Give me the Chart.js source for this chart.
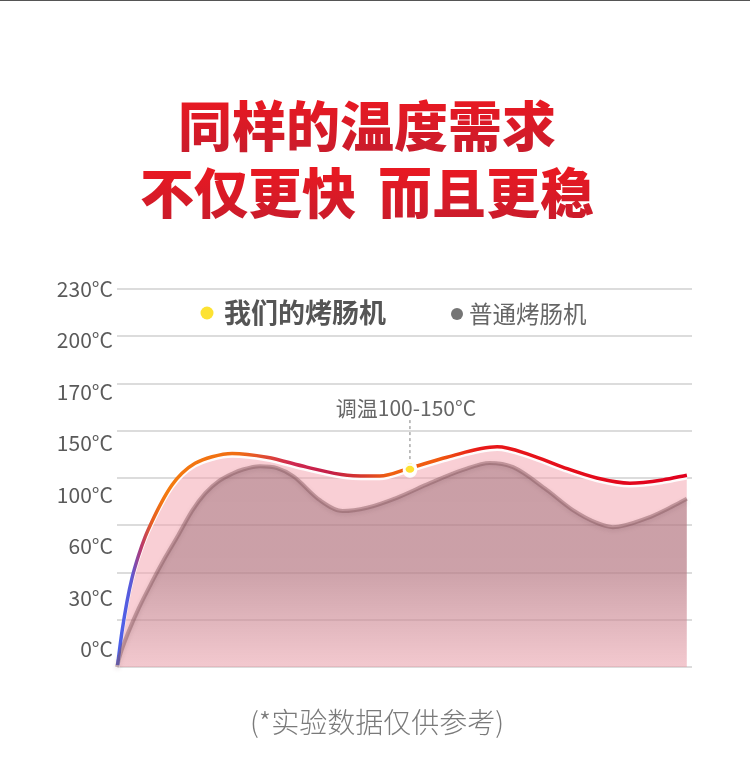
<!DOCTYPE html>
<html>
<head>
<meta charset="utf-8">
<script src="https://cdn.jsdelivr.net/npm/chart.js@4.4.1/dist/chart.umd.min.js"></script>
<style>
  html, body { margin: 0; padding: 0; background: #fff; }
  #page { position: relative; width: 750px; height: 773px; overflow: hidden; background: #fff; }
  #topline { position: absolute; left: 0; top: 0; width: 750px; height: 1px; background: #555; }
  #title {
    position: absolute; left: -8px; top: 90px; width: 750px; text-align: center;
    font-family: "Noto Sans CJK SC", "Noto Sans", sans-serif; font-weight: 900;
    font-size: 54px; line-height: 67px; white-space: nowrap;
    background: linear-gradient(180deg, #ee1820 0%, #c81c2c 48%, #ee1820 52%, #c81c2c 100%);
    -webkit-background-clip: text; background-clip: text; color: transparent;
  }
  #title .gap { display: inline-block; width: 22px; }
  #note {
    position: absolute; left: 2px; top: 701px; width: 750px; text-align: center;
    font-family: "Noto Sans CJK SC", "Noto Sans", sans-serif; font-weight: 300;
    font-size: 28px; line-height: 40px; color: #7a7a7a;
  }
  #chartBox { position: absolute; left: 0; top: 0; width: 750px; height: 773px; }
</style>
</head>
<body>
<div id="page">
  <div id="topline"></div>
  <div id="chartBox"><canvas id="c" width="750" height="773"></canvas></div>
  <div id="title">同样的温度需求<br>不仅更快<span class="gap"></span>而且更稳</div>
  <div id="note">(*实验数据仅供参考)</div>
</div>
<script>
// ---- data (y in grid-line units, x = heating progress 0..100) ----
const tempLabels = ['0°C', '30°C', '60°C', '100°C', '150°C', '170°C', '200°C', '230°C'];
const seriesNames = ['我们的烤肠机', '普通烤肠机'];
const annotationText = '调温100-150°C';

const oursX = [0.1, 0.88, 1.75, 2.63, 3.81, 4.96, 6.14, 7.89, 9.65, 11.4, 13.7, 16.7, 20.2, 26.3, 33.3, 40.4, 46.1, 51.4, 57.9, 66.7, 72.5, 78.2, 84.2, 90, 95.8, 100];
const oursY = [0.04, 0.75, 1.38, 1.88, 2.37, 2.76, 3.08, 3.5, 3.85, 4.1, 4.31, 4.45, 4.52, 4.44, 4.23, 4.06, 4.04, 4.21, 4.44, 4.66, 4.49, 4.23, 4.0, 3.89, 3.96, 4.06];
const markerIndex = 17;

const regularX = [0, 0.53, 2.05, 3.81, 6.14, 8.42, 10.8, 13.2, 15.5, 17.8, 20.2, 22.1, 25.1, 28.1, 30.9, 35.6, 39.6, 43.9, 49.1, 54.9, 60.7, 65.4, 69.5, 75.4, 80, 84.2, 87, 93, 97, 100];
const regularY = [0, 0.25, 0.75, 1.24, 1.8, 2.31, 2.8, 3.31, 3.68, 3.93, 4.09, 4.18, 4.25, 4.21, 4.04, 3.53, 3.3, 3.37, 3.58, 3.89, 4.17, 4.32, 4.23, 3.75, 3.32, 3.05, 2.96, 3.15, 3.37, 3.56];

const FONT = '"Noto Sans CJK SC", "Noto Sans", sans-serif';

function lineGradient(context) {
  const chart = context.chart;
  const area = chart.chartArea;
  if (!area) return '#e8101e';
  const g = chart.ctx.createLinearGradient(area.left, 0, area.right, 0);
  g.addColorStop(0.0, '#4a62f0');
  g.addColorStop(0.025, '#5a5ad8');
  g.addColorStop(0.042, '#b8386e');
  g.addColorStop(0.062, '#e8601e');
  g.addColorStop(0.085, '#f47a10');
  g.addColorStop(0.21, '#f06e12');
  g.addColorStop(0.30, '#d02a50');
  g.addColorStop(0.37, '#c41e48');
  g.addColorStop(0.43, '#d83a2a');
  g.addColorStop(0.475, '#f06010');
  g.addColorStop(0.56, '#f05a10');
  g.addColorStop(0.63, '#e81818');
  g.addColorStop(1.0, '#e0001e');
  return g;
}

function grayFill(context) {
  const chart = context.chart;
  const area = chart.chartArea;
  if (!area) return 'rgba(130,85,95,0.4)';
  const g = chart.ctx.createLinearGradient(0, area.top, 0, area.bottom);
  g.addColorStop(0, 'rgba(130,85,95,0.42)');
  g.addColorStop(0.74, 'rgba(130,85,95,0.38)');
  g.addColorStop(1, 'rgba(130,85,95,0.05)');
  return g;
}

const lineShadowPlugin = {
  id: 'lineShadow',
  beforeDatasetDraw(chart, args) {
    const ctx = chart.ctx;
    ctx.save();
    if (args.index === 0) {
      ctx.shadowColor = 'rgba(255,255,255,0.95)';
      ctx.shadowBlur = 0;
      ctx.shadowOffsetY = 2.5;
    } else {
      ctx.shadowColor = 'rgba(110,70,78,0.35)';
      ctx.shadowBlur = 4;
      ctx.shadowOffsetY = 2;
    }
  },
  afterDatasetDraw(chart) {
    chart.ctx.restore();
  }
};

const overlayPlugin = {
  id: 'overlay',
  afterDraw(chart) {
    const ctx = chart.ctx;
    const area = chart.chartArea;
    ctx.save();
    ctx.textBaseline = 'middle';
    ctx.textAlign = 'left';
    const ly = area.top + 24;
    ctx.fillStyle = '#fde232';
    ctx.beginPath(); ctx.arc(area.left + 90, ly, 6.5, 0, Math.PI * 2); ctx.fill();
    ctx.fillStyle = '#555';
    ctx.font = 'bold 27px ' + FONT;
    ctx.fillText(chart.data.datasets[0].label, area.left + 107, ly);
    ctx.fillStyle = '#757575';
    ctx.beginPath(); ctx.arc(area.left + 340, ly + 1, 6, 0, Math.PI * 2); ctx.fill();
    ctx.fillStyle = '#666';
    ctx.font = '23.5px ' + FONT;
    ctx.fillText(chart.data.datasets[1].label, area.left + 352, ly + 1);
    // annotation above the marker point
    const pt = chart.getDatasetMeta(0).data[markerIndex];
    ctx.strokeStyle = '#aaa';
    ctx.lineWidth = 1.5;
    ctx.setLineDash([3, 3]);
    ctx.beginPath(); ctx.moveTo(pt.x, pt.y - 48); ctx.lineTo(pt.x, pt.y - 8); ctx.stroke();
    ctx.setLineDash([]);
    ctx.fillStyle = '#666';
    ctx.font = '21px ' + FONT;
    ctx.textAlign = 'center';
    ctx.fillText(annotationText, pt.x - 4, pt.y - 60);
    ctx.restore();
  }
};

new Chart(document.getElementById('c'), {
  type: 'line',
  data: {
    datasets: [
      {
        label: seriesNames[0],
        data: oursX.map((x, i) => ({ x: x, y: oursY[i] })),
        yAxisID: 'y',
        order: 1,
        borderColor: lineGradient,
        borderWidth: 3.5,
        backgroundColor: 'rgba(244,160,172,0.5)',
        fill: 'origin',
        cubicInterpolationMode: 'monotone',
        clip: false,
        pointRadius: (c) => c.dataIndex === markerIndex ? 6 : 0,
        pointHoverRadius: (c) => c.dataIndex === markerIndex ? 6 : 0,
        pointBackgroundColor: '#fde232',
        pointBorderColor: '#ffffff',
        pointBorderWidth: 2.5
      },
      {
        label: seriesNames[1],
        data: regularX.map((x, i) => ({ x: x, y: regularY[i] })),
        yAxisID: 'y',
        order: 0,
        borderColor: 'rgba(130,85,92,0.45)',
        borderWidth: 4,
        backgroundColor: grayFill,
        fill: 'origin',
        cubicInterpolationMode: 'monotone',
        clip: false,
        pointRadius: 0,
        pointHoverRadius: 0
      }
    ]
  },
  options: {
    responsive: false,
    animation: false,
    layout: { padding: { top: 289, bottom: 106, right: 58, left: 0 } },
    events: [],
    plugins: {
      legend: { display: false },
      tooltip: { enabled: false },
      filler: { drawTime: 'beforeDatasetsDraw' }
    },
    scales: {
      x: { type: 'linear', min: 0, max: 100.9, display: false },
      y: {
        type: 'linear', position: 'left', min: 0, max: 8,
        ticks: { display: false, stepSize: 1 },
        grid: { color: '#dcdcdc', lineWidth: 2, drawTicks: false },
        border: { display: false },
        afterFit: (s) => { s.width = 0; }
      },
      yl: {
        type: 'linear', position: 'left', min: -0.35, max: 7,
        afterBuildTicks: (s) => { s.ticks = tempLabels.map((_, i) => ({ value: i })); },
        ticks: {
          callback: (v) => tempLabels[v],
          color: '#5a5a5a',
          font: { family: FONT, size: 21 },
          padding: 4
        },
        grid: { display: false, drawTicks: false },
        border: { display: false },
        afterFit: (s) => { s.width = 117; }
      }
    }
  },
  plugins: [lineShadowPlugin, overlayPlugin]
});
</script>
</body>
</html>
